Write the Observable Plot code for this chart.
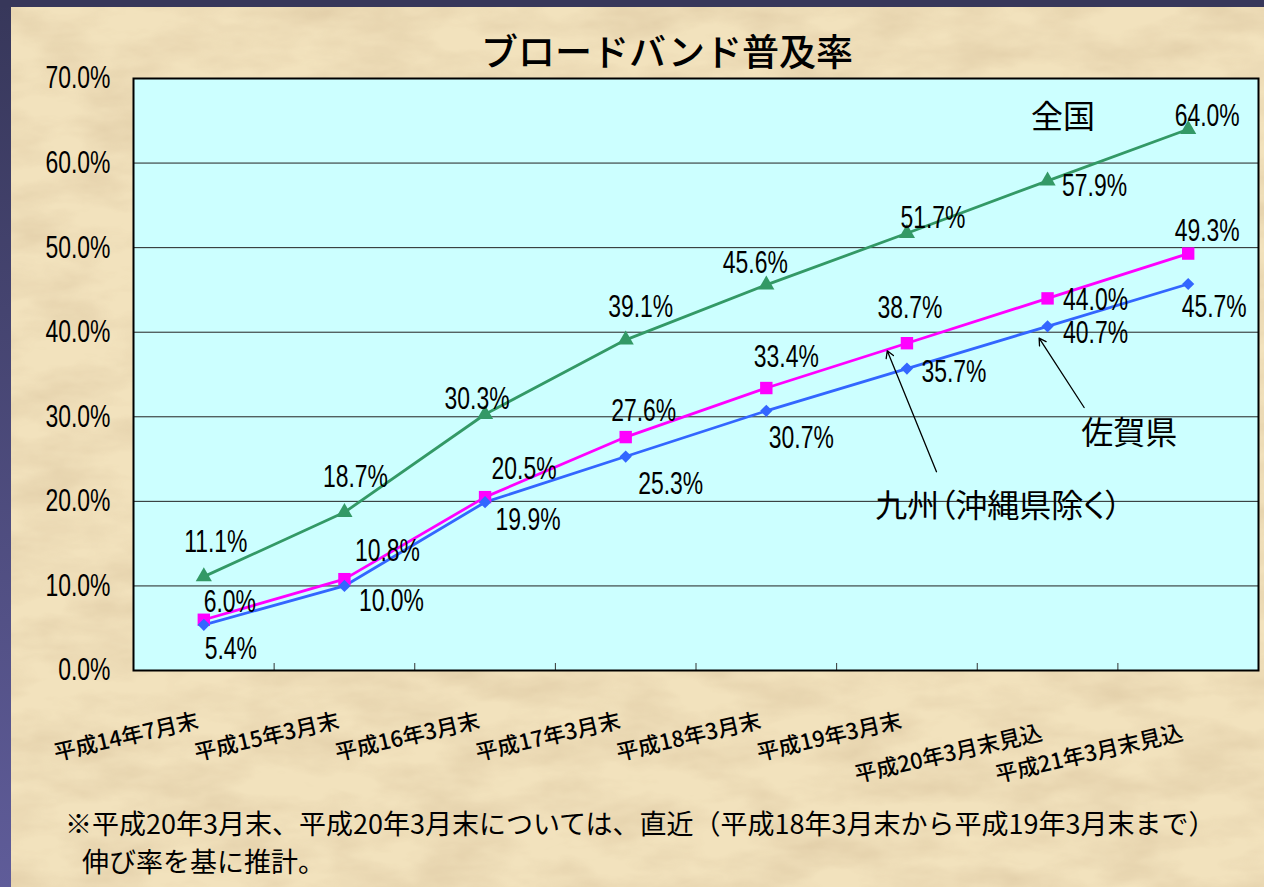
<!DOCTYPE html>
<html><head><meta charset="utf-8">
<script src="https://cdn.jsdelivr.net/npm/d3@7"></script>
<script src="https://cdn.jsdelivr.net/npm/@observablehq/plot@0.6"></script>
<style>
html,body{margin:0;padding:0;}
body{width:1264px;height:887px;position:relative;overflow:hidden;
  background:#EEDCB2 url("data:image/svg+xml;utf8,<svg xmlns='http://www.w3.org/2000/svg' width='1264' height='887'><filter id='n'><feTurbulence type='fractalNoise' baseFrequency='0.012 0.03' numOctaves='4' seed='7'/><feColorMatrix values='0 0 0 0 0.62 0 0 0 0 0.47 0 0 0 0 0.28 0 0 0 -1.6 1.05'/></filter><rect width='100%' height='100%' fill='%23F2E2BD'/><rect width='100%' height='100%' filter='url(%23n)' opacity='0.45'/></svg>");
  font-family:"Noto Sans CJK JP",sans-serif;color:#000;}
#lstrip{position:absolute;left:0;top:0;width:11px;height:887px;background:linear-gradient(#37375a,#5f5c99);}
#tstrip{position:absolute;left:0;top:0;width:1264px;height:7px;background:#37375a;}
#title{position:absolute;top:25px;left:0;width:1334px;text-align:center;font-size:37px;line-height:50px;font-weight:500;}
#chart{position:absolute;left:0;top:50px;}
#note{position:absolute;left:65px;top:804px;font-size:27px;line-height:38px;}
#note .l2{padding-left:17px;}
</style>
</head><body>
<div id="lstrip"></div><div id="tstrip"></div>
<div id="title">ブロードバンド普及率</div>
<div id="chart"></div>
<div id="note"><div>※平成20年3月末、平成20年3月末については、直近（平成18年3月末から平成19年3月末まで）</div><div class="l2">伸び率を基に推計。</div></div>
<script>
// ---- data ----
const categories = ["平成14年7月末","平成15年3月末","平成16年3月末","平成17年3月末","平成18年3月末","平成19年3月末","平成20年3月末見込","平成21年3月末見込"];
const seriesNames = ["全国","九州（沖縄県除く）","佐賀県"];
const national = [11.1, 18.7, 30.3, 39.1, 45.6, 51.7, 57.9, 64.0];
const kyushu   = [6.0, 10.8, 20.5, 27.6, 33.4, 38.7, 44.0, 49.3];
const saga     = [5.4, 10.0, 19.9, 25.3, 30.7, 35.7, 40.7, 45.7];
const yTicks = [0, 10, 20, 30, 40, 50, 60, 70];

// ---- label offsets (px, relative to each point) ----
const offNational = [[12,-35],[11,-35],[-8,-15],[15,-33],[-11,-22],[26,-15],[47,5],[19,-13]];
const offKyushu   = [[26,-18],[43,-28],[39,-28],[18,-26],[20,-31],[3,-35],[48,2],[19,-22]];
const offSaga     = [[27,24],[47,15],[43,18],[45,28],[35,27],[47,3],[48,7],[26,23]];

// ---- annotations (data coordinates: x in category units, y in %) ----
const annoLabels = [
  {x: 6.61, y: 65.4, text: "全国"},
  {x: 7.08, y: 28.0, text: "佐賀県"},
  {x: 6.15, y: 19.4, text: "九州（沖縄県除く）"}
];
const annoArrows = [
  {x1: 5.71, y1: 23.5, x2: 5.36, y2: 37.8},
  {x1: 6.76, y1: 31.1, x2: 6.44, y2: 39.3}
];

const colors = ["#339966", "#FF00FF", "#3366FF"];
const symbols = ["triangle", "square", "diamond2"];
const radii = [6, 7, 5.5];
const pos = i => i + 0.5;
const bounds = d3.range(1, categories.length);

const seriesVals = [national, kyushu, saga];
const seriesOff = [offNational, offKyushu, offSaga];
const rows = [];
seriesVals.forEach((vals, s) => vals.forEach((v, i) => rows.push({series: seriesNames[s], s, i, value: v, off: seriesOff[s][i]})));

const numFont = "'Liberation Sans','Arial',sans-serif";
const jpFont = "'Noto Sans CJK JP',sans-serif";

const labelMarks = rows.map(r => Plot.text([r], {
  x: d => pos(d.i), y: "value", text: d => d.value.toFixed(1) + "%",
  dx: r.off[0], dy: r.off[1], fontSize: 31, fontFamily: numFont, fill: "black"
}));

const dotMarks = seriesNames.map((name, s) => Plot.dot(rows.filter(d => d.s === s), {
  x: d => pos(d.i), y: "value", symbol: symbols[s], fill: colors[s], r: radii[s], stroke: "none"
}));

const catRows = categories.map((c, i) => ({c, i}));
const catText = (data, dy) => Plot.text(data, {x: d => pos(d.i), frameAnchor: "bottom", text: "c", textAnchor: "end", rotate: -13, dx: -4, dy, fontSize: 22, fontWeight: 500, fontFamily: jpFont});

const chart = Plot.plot({
  width: 1264, height: 740,
  marginTop: 28, marginBottom: 120, marginLeft: 133, marginRight: 6,
  x: {domain: [0, categories.length], axis: null},
  y: {domain: [0, 70], axis: null},
  color: {domain: seriesNames, range: colors},
  style: {background: "transparent", fontFamily: numFont, overflow: "visible"},
  marks: [
    Plot.frame({fill: "#CCFFFF"}),
    Plot.ruleY(yTicks.slice(1, -1), {stroke: "#222", strokeWidth: 1}),
    Plot.axisY({ticks: yTicks, tickFormat: d => d.toFixed(1) + "%", tickSize: 0, tickPadding: 23, fontSize: 31, fontFamily: numFont, label: null}),
    Plot.axisX({ticks: bounds, tickSize: -7, tickFormat: () => "", label: null, stroke: "#333"}),
    catText(catRows.filter(d => d.c.length <= 8), 57),
    catText(catRows.filter(d => d.c.length > 8), 69),
    Plot.frame({stroke: "black", strokeWidth: 2}),
    Plot.line(rows, {x: d => pos(d.i), y: "value", z: "series", stroke: "series", strokeWidth: 2.8}),
    ...dotMarks,
    ...labelMarks,
    Plot.arrow(annoArrows, {x1: "x1", y1: "y1", x2: "x2", y2: "y2", stroke: "black", strokeWidth: 1.3, headLength: 9, bend: 0}),
    Plot.text(annoLabels, {x: "x", y: "y", text: "text", fontSize: 32, fontFamily: jpFont, fill: "black"})
  ]
});
// condense the numeric labels horizontally, like the narrow face of the original
d3.select(chart).selectAll("text").each(function () {
  const t = d3.select(this);
  const s = t.text();
  if (/^\d+\.\d%$/.test(s)) {
    const tr = t.attr("transform") || "";
    t.attr("transform", tr + " scale(0.74,1)");
  }
  if (s.includes("（")) t.style("font-feature-settings", "'palt'");
});
document.getElementById("chart").appendChild(chart);
</script>
</body></html>
